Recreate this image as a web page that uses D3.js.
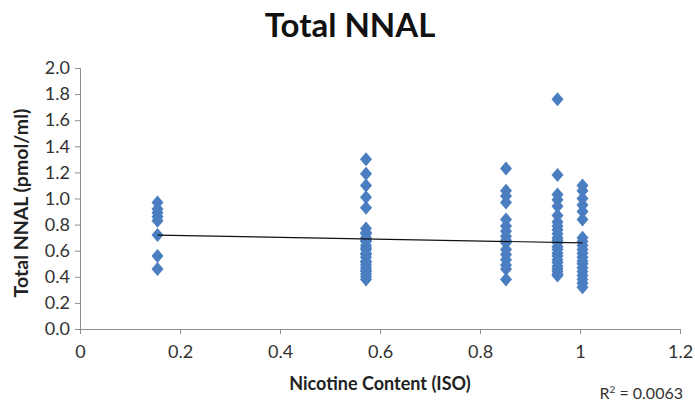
<!DOCTYPE html>
<html>
<head>
<meta charset="utf-8">
<script src="https://cdn.jsdelivr.net/npm/d3@7"></script>
<style>
  body { margin: 0; background: #fff; }
  text { font-family: Lato, "Open Sans", sans-serif; }
</style>
</head>
<body>
<div id="chart"></div>
<script>
// nicotine content (ISO) of each cigarette group
const nicotineLevels = [0.155, 0.572, 0.852, 0.955, 1.005];

// total NNAL (pmol/ml) per group
const nnal015 = [0.97, 0.92, 0.89, 0.86, 0.83, 0.72, 0.56, 0.46];
const nnal057 = [1.30, 1.19, 1.10, 1.01, 0.93, 0.77, 0.74, 0.73, 0.70, 0.68, 0.67,
  0.64, 0.62, 0.61, 0.58, 0.57, 0.55, 0.52, 0.51, 0.49, 0.47, 0.45, 0.44, 0.42, 0.40, 0.38];
const nnal085 = [1.23, 1.06, 1.02, 0.97, 0.84, 0.79, 0.75, 0.71, 0.68, 0.66, 0.61,
  0.57, 0.53, 0.49, 0.46, 0.38];
const nnal095 = [1.76, 1.18, 1.03, 0.99, 0.94, 0.87, 0.82, 0.79, 0.76, 0.73, 0.70,
  0.68, 0.66, 0.63, 0.61, 0.58, 0.56, 0.53, 0.51, 0.48, 0.46, 0.44, 0.42, 0.41];
const nnal100 = [1.10, 1.06, 1.00, 0.95, 0.90, 0.84, 0.70, 0.67, 0.64, 0.61, 0.58,
  0.55, 0.52, 0.50, 0.47, 0.44, 0.41, 0.38, 0.35, 0.32];
const nnalGroups = [nnal015, nnal057, nnal085, nnal095, nnal100];

// linear trend line end points
const trendX = [0.155, 1.005];
const trendY = [0.72, 0.66];

const xTicks = [0, 0.2, 0.4, 0.6, 0.8, 1, 1.2];
const yTicks = [0, 0.2, 0.4, 0.6, 0.8, 1.0, 1.2, 1.4, 1.6, 1.8, 2.0];
const rSquared = '0.0063';

const width = 695, height = 407;
const margin = { top: 68, right: 15, bottom: 78, left: 80 };
const plotH = height - margin.top - margin.bottom;

const points = [];
nnalGroups.forEach((group, i) => {
  group.forEach((v) => points.push({ x: nicotineLevels[i], y: v }));
});

const svg = d3.select('#chart').append('svg')
  .attr('width', width)
  .attr('height', height);

const g = svg.append('g')
  .attr('transform', `translate(${margin.left},${margin.top})`);

const x = d3.scaleLinear().domain([0, 1.2]).range([0, 600]);
const y = d3.scaleLinear().domain([0, 2]).range([plotH, 0]);

// title
svg.append('text')
  .attr('x', 350)
  .attr('y', 37)
  .attr('text-anchor', 'middle')
  .style('font-size', '33px')
  .style('font-weight', 'bold')
  .attr('fill', '#111')
  .text('Total NNAL');

// axes
const xAxis = g.append('g')
  .attr('transform', `translate(0,${plotH})`)
  .call(d3.axisBottom(x).tickValues(xTicks).tickFormat(d3.format('')).tickSizeOuter(0).tickSize(5).tickPadding(11));

const yAxis = g.append('g')
  .call(d3.axisLeft(y).tickValues(yTicks).tickFormat(d3.format('.1f')).tickSizeOuter(0).tickSize(5).tickPadding(5));

[xAxis, yAxis].forEach((ax) => {
  ax.selectAll('path, line').attr('stroke', '#8c8c8c');
  ax.selectAll('text')
    .attr('fill', '#333')
    .style('font-size', '18px')
    .style('font-family', 'Lato, "Open Sans", sans-serif');
});

// points
g.selectAll('path.pt')
  .data(points)
  .join('path')
  .attr('class', 'pt')
  .attr('d', 'M0,-7L6,0L0,7L-6,0Z')
  .attr('transform', (d) => `translate(${x(d.x)},${y(d.y)})`)
  .attr('fill', '#4a7ec1');

// trend line
g.append('path')
  .datum(trendX.map((v, i) => [v, trendY[i]]))
  .attr('fill', 'none')
  .attr('stroke', '#111')
  .attr('stroke-width', 1.2)
  .attr('d', d3.line().x((d) => x(d[0])).y((d) => y(d[1])));

// axis titles
svg.append('text')
  .attr('x', 380)
  .attr('y', 390)
  .attr('text-anchor', 'middle')
  .style('font-size', '18px')
  .style('font-weight', 'bold')
  .attr('fill', '#222')
  .text('Nicotine Content (ISO)');

svg.append('text')
  .attr('transform', 'translate(28,203) rotate(-90)')
  .attr('text-anchor', 'middle')
  .style('font-size', '19.5px')
  .style('font-weight', 'bold')
  .attr('fill', '#222')
  .text('Total NNAL (pmol/ml)');

// R squared
const r2 = svg.append('text')
  .attr('x', 683)
  .attr('y', 399)
  .attr('text-anchor', 'end')
  .style('font-size', '16px')
  .attr('fill', '#333');
r2.append('tspan').text('R');
r2.append('tspan').attr('dy', -6).style('font-size', '10px').text('2');
r2.append('tspan').attr('dy', 6).text(` = ${rSquared}`);
</script>
</body>
</html>
